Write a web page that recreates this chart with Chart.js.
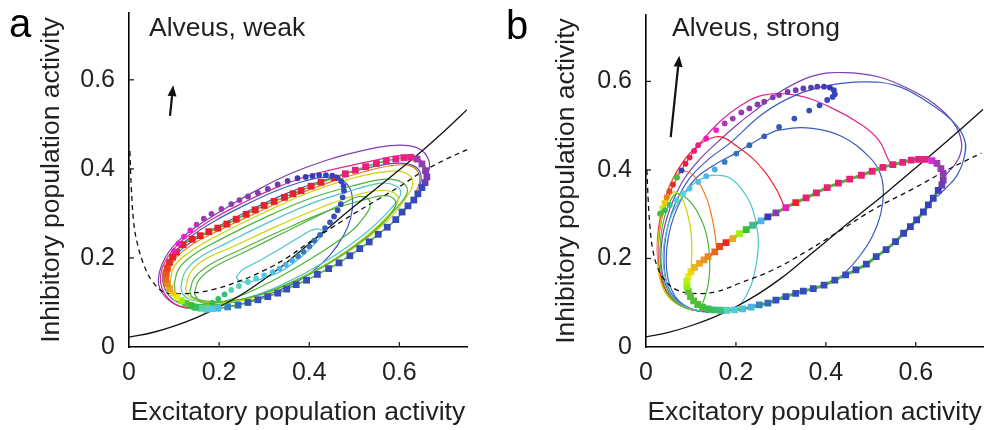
<!DOCTYPE html>
<html><head><meta charset="utf-8">
<script src="https://cdn.jsdelivr.net/npm/chart.js@4.4.1/dist/chart.umd.min.js"></script>
<style>
html,body{margin:0;padding:0;background:#fff;overflow:hidden}
#wrap{position:relative;width:988px;height:430px}
.panel{position:absolute;top:0;width:494px;height:430px}
</style></head><body>
<div id="wrap">
<div class="panel" style="left:0"><canvas id="ca" width="494" height="430"></canvas></div>
<div class="panel" style="left:494px"><canvas id="cb" width="494" height="430"></canvas></div>
</div>
<script>
// ---------- tick values ----------
const xTickValues = [0, 0.2, 0.4, 0.6];
const yTickValues = [0, 0.2, 0.4, 0.6];
const axisTitleX = 'Excitatory population activity';
const axisTitleY = 'Inhibitory population activity';
const panelLetters = ['a', 'b'];
const panelLabels = ['Alveus, weak', 'Alveus, strong'];

// ---------- panel a data ----------
const aSolid = [[0,0.022],[0.05,0.032],[0.1,0.047],[0.15,0.066],[0.2,0.09],[0.25,0.118],[0.3,0.152],[0.35,0.19],[0.4,0.232],[0.45,0.274],[0.5,0.316],[0.55,0.357],[0.6,0.398],[0.65,0.44],[0.7,0.485],[0.75,0.533]];
const aDashed = [[0.002,0.44],[0.005,0.36],[0.01,0.284],[0.017,0.239],[0.032,0.187],[0.05,0.15],[0.076,0.124],[0.1,0.12],[0.14,0.121],[0.19,0.13],[0.25,0.15],[0.3,0.172],[0.35,0.2],[0.4,0.235],[0.45,0.268],[0.5,0.3],[0.55,0.33],[0.6,0.36],[0.65,0.393],[0.7,0.42],[0.75,0.443]];
const aCycle = [[0.105,0.213],[0.120,0.230],[0.140,0.242],[0.158,0.250],[0.177,0.259],[0.197,0.267],[0.217,0.276],[0.238,0.287],[0.260,0.298],[0.280,0.308],[0.300,0.318],[0.322,0.327],[0.345,0.336],[0.364,0.344],[0.382,0.351],[0.404,0.361],[0.426,0.370],[0.455,0.380],[0.480,0.389],[0.502,0.397],[0.525,0.405],[0.549,0.412],[0.571,0.418],[0.592,0.422],[0.610,0.425],[0.625,0.426],[0.639,0.422],[0.650,0.411],[0.658,0.396],[0.661,0.382],[0.657,0.369],[0.650,0.358],[0.641,0.344],[0.632,0.330],[0.619,0.317],[0.606,0.303],[0.592,0.286],[0.573,0.269],[0.553,0.253],[0.533,0.236],[0.512,0.221],[0.490,0.205],[0.466,0.189],[0.443,0.176],[0.418,0.163],[0.394,0.150],[0.371,0.140],[0.350,0.130],[0.330,0.121],[0.308,0.113],[0.286,0.106],[0.264,0.100],[0.242,0.094],[0.219,0.090],[0.197,0.087],[0.185,0.086],[0.172,0.085],[0.160,0.087],[0.148,0.089],[0.137,0.093],[0.126,0.098],[0.116,0.104],[0.106,0.112],[0.097,0.121],[0.090,0.131],[0.085,0.142],[0.082,0.153],[0.082,0.165],[0.085,0.177],[0.090,0.190],[0.097,0.202]];
const aDots = [[0.100,0.215],[0.110,0.232],[0.122,0.248],[0.136,0.262],[0.150,0.275],[0.166,0.288],[0.183,0.299],[0.205,0.310],[0.227,0.321],[0.245,0.330],[0.264,0.338],[0.286,0.346],[0.308,0.355],[0.330,0.365],[0.352,0.373],[0.374,0.379],[0.392,0.382],[0.407,0.384],[0.422,0.386],[0.437,0.386],[0.451,0.385],[0.463,0.380],[0.471,0.372],[0.476,0.362],[0.477,0.351],[0.474,0.336],[0.470,0.321],[0.463,0.307],[0.455,0.293],[0.446,0.280],[0.435,0.267],[0.424,0.252],[0.411,0.239],[0.400,0.226],[0.387,0.214],[0.375,0.204],[0.362,0.194],[0.348,0.185],[0.334,0.176],[0.319,0.168],[0.300,0.161],[0.282,0.154],[0.264,0.146],[0.244,0.137],[0.227,0.128],[0.212,0.118],[0.198,0.108],[0.185,0.099]];
const aPurple = [[0.16,0.083],[0.11,0.092],[0.08,0.113],[0.066,0.14],[0.068,0.17],[0.08,0.2],[0.1,0.228],[0.13,0.256],[0.17,0.284],[0.22,0.315],[0.28,0.35],[0.36,0.39],[0.44,0.42],[0.518,0.441],[0.58,0.452],[0.621,0.452],[0.648,0.443],[0.663,0.425],[0.667,0.405],[0.662,0.385]];
const aPink = [[0.15,0.085],[0.105,0.095],[0.08,0.118],[0.07,0.145],[0.073,0.175],[0.088,0.205],[0.11,0.232],[0.145,0.26],[0.19,0.29],[0.25,0.322],[0.32,0.355],[0.4,0.385],[0.48,0.405],[0.55,0.42],[0.6,0.43],[0.635,0.428],[0.655,0.41],[0.66,0.39]];
const aBlue = [[0.14,0.09],[0.1,0.105],[0.08,0.13],[0.075,0.16],[0.085,0.19],[0.105,0.218],[0.14,0.25],[0.19,0.283],[0.25,0.315],[0.32,0.348],[0.38,0.37],[0.43,0.381],[0.465,0.378],[0.488,0.36],[0.496,0.33],[0.492,0.29],[0.476,0.25],[0.445,0.205],[0.405,0.168],[0.36,0.14],[0.31,0.118],[0.26,0.1],[0.21,0.088]];
const aBlue2 = [[0.08,0.14],[0.09,0.185],[0.12,0.222],[0.17,0.255],[0.25,0.298],[0.35,0.345],[0.45,0.38],[0.53,0.402],[0.6,0.413],[0.635,0.405],[0.648,0.385],[0.645,0.36]];
const aOrange = [[0.085,0.15],[0.1,0.195],[0.14,0.23],[0.2,0.262],[0.28,0.3],[0.36,0.337],[0.44,0.368],[0.52,0.393],[0.58,0.407],[0.62,0.408],[0.64,0.395],[0.645,0.372],[0.635,0.345]];
const aYellow1 = [[0.09,0.14],[0.1,0.18],[0.13,0.21],[0.2,0.252],[0.3,0.302],[0.4,0.347],[0.5,0.38],[0.58,0.395],[0.615,0.39],[0.63,0.37],[0.618,0.34],[0.57,0.28],[0.48,0.21],[0.38,0.155],[0.28,0.115],[0.2,0.095],[0.14,0.097],[0.105,0.113],[0.09,0.14]];
const aGreen1 = [[0.10,0.14],[0.11,0.175],[0.14,0.205],[0.2,0.24],[0.3,0.29],[0.4,0.333],[0.5,0.363],[0.57,0.377],[0.605,0.37],[0.618,0.35],[0.6,0.32],[0.55,0.268],[0.46,0.2],[0.36,0.145],[0.27,0.11],[0.19,0.095],[0.13,0.1],[0.106,0.118],[0.10,0.14]];
const aCyan1 = [[0.115,0.135],[0.125,0.17],[0.155,0.2],[0.22,0.235],[0.32,0.285],[0.42,0.328],[0.5,0.353],[0.56,0.368],[0.592,0.362],[0.603,0.345],[0.585,0.315],[0.53,0.26],[0.44,0.195],[0.34,0.14],[0.26,0.11],[0.19,0.1],[0.14,0.105],[0.12,0.118],[0.115,0.135]];
const aYellow2 = [[0.125,0.13],[0.135,0.165],[0.165,0.195],[0.23,0.225],[0.33,0.272],[0.43,0.315],[0.51,0.343],[0.565,0.352],[0.592,0.343],[0.597,0.328],[0.575,0.295],[0.51,0.235],[0.42,0.175],[0.32,0.126],[0.24,0.103],[0.17,0.1],[0.135,0.112],[0.125,0.13]];
const aGreen2 = [[0.135,0.125],[0.145,0.155],[0.18,0.185],[0.24,0.215],[0.34,0.262],[0.44,0.305],[0.52,0.33],[0.568,0.34],[0.59,0.33],[0.588,0.31],[0.56,0.275],[0.5,0.225],[0.41,0.168],[0.31,0.124],[0.23,0.104],[0.17,0.103],[0.14,0.113],[0.135,0.125]];
const aGreen3 = [[0.145,0.12],[0.155,0.15],[0.19,0.18],[0.26,0.215],[0.34,0.255],[0.42,0.295],[0.48,0.325],[0.51,0.338],[0.53,0.333],[0.535,0.315],[0.52,0.29],[0.496,0.262],[0.422,0.21],[0.334,0.157],[0.26,0.12],[0.2,0.1],[0.16,0.1],[0.145,0.12]];
const aCyan2 = [[0.238,0.157],[0.25,0.172],[0.267,0.182],[0.3,0.2],[0.341,0.224],[0.375,0.245],[0.4,0.26],[0.42,0.265],[0.43,0.258],[0.415,0.235],[0.385,0.205],[0.341,0.172],[0.3,0.155],[0.267,0.146],[0.245,0.148],[0.238,0.157]];
const aArrow = [[0.091,0.519],[0.098,0.588]];

// ---------- panel b data ----------
const bSolid = [[0,0.023],[0.05,0.033],[0.1,0.048],[0.15,0.067],[0.2,0.091],[0.25,0.12],[0.3,0.155],[0.35,0.196],[0.4,0.238],[0.45,0.28],[0.5,0.32],[0.55,0.362],[0.6,0.405],[0.65,0.448],[0.7,0.492],[0.75,0.537]];
const bDashed = [[0.002,0.40],[0.005,0.33],[0.009,0.27],[0.015,0.22],[0.025,0.182],[0.04,0.153],[0.068,0.129],[0.105,0.121],[0.156,0.125],[0.208,0.144],[0.282,0.174],[0.355,0.215],[0.43,0.262],[0.51,0.313],[0.595,0.358],[0.67,0.40],[0.746,0.438]];
const bCycle = [[0.094,0.159],[0.100,0.170],[0.108,0.180],[0.119,0.189],[0.129,0.197],[0.138,0.204],[0.153,0.215],[0.164,0.227],[0.178,0.236],[0.193,0.245],[0.208,0.256],[0.223,0.265],[0.237,0.275],[0.256,0.285],[0.271,0.294],[0.289,0.303],[0.311,0.315],[0.333,0.326],[0.356,0.337],[0.379,0.348],[0.403,0.360],[0.428,0.370],[0.453,0.379],[0.479,0.388],[0.503,0.397],[0.527,0.406],[0.549,0.412],[0.571,0.417],[0.590,0.422],[0.606,0.424],[0.621,0.424],[0.636,0.421],[0.647,0.415],[0.656,0.403],[0.661,0.392],[0.661,0.377],[0.658,0.366],[0.650,0.354],[0.639,0.336],[0.628,0.321],[0.617,0.305],[0.602,0.287],[0.588,0.272],[0.573,0.257],[0.555,0.238],[0.534,0.220],[0.512,0.204],[0.490,0.187],[0.467,0.174],[0.444,0.163],[0.420,0.151],[0.396,0.140],[0.372,0.132],[0.350,0.126],[0.333,0.121],[0.311,0.114],[0.289,0.106],[0.271,0.099],[0.252,0.095],[0.234,0.090],[0.215,0.086],[0.197,0.084],[0.180,0.083],[0.165,0.083],[0.150,0.084],[0.138,0.086],[0.126,0.090],[0.115,0.096],[0.106,0.104],[0.099,0.114],[0.094,0.125],[0.091,0.137],[0.091,0.148]];
const bDots = [[0.031,0.301],[0.036,0.315],[0.041,0.327],[0.046,0.339],[0.052,0.352],[0.060,0.367],[0.069,0.383],[0.079,0.399],[0.088,0.414],[0.097,0.428],[0.107,0.443],[0.116,0.456],[0.134,0.471],[0.156,0.490],[0.175,0.505],[0.193,0.516],[0.212,0.530],[0.230,0.539],[0.248,0.548],[0.263,0.554],[0.282,0.564],[0.296,0.569],[0.315,0.576],[0.333,0.580],[0.350,0.584],[0.367,0.586],[0.381,0.588],[0.396,0.588],[0.409,0.586],[0.418,0.580],[0.420,0.571],[0.415,0.565],[0.403,0.558],[0.386,0.546],[0.363,0.534],[0.330,0.516],[0.296,0.497],[0.263,0.476],[0.230,0.456],[0.201,0.437],[0.175,0.418],[0.153,0.401],[0.134,0.386],[0.116,0.373],[0.097,0.358],[0.083,0.347],[0.068,0.332],[0.053,0.321],[0.042,0.309],[0.033,0.302]];
const bPurple = [[0.13,0.079],[0.085,0.09],[0.055,0.118],[0.038,0.16],[0.033,0.2],[0.036,0.245],[0.046,0.29],[0.062,0.335],[0.085,0.38],[0.116,0.42],[0.156,0.46],[0.2,0.5],[0.25,0.54],[0.296,0.575],[0.37,0.612],[0.44,0.62],[0.518,0.61],[0.58,0.585],[0.64,0.55],[0.685,0.505],[0.702,0.46],[0.695,0.425],[0.675,0.398],[0.658,0.382]];
const bBlueOuter = [[0.14,0.078],[0.095,0.088],[0.062,0.113],[0.045,0.15],[0.04,0.2],[0.044,0.25],[0.056,0.3],[0.075,0.345],[0.1,0.385],[0.14,0.425],[0.186,0.46],[0.26,0.527],[0.333,0.569],[0.407,0.591],[0.481,0.599],[0.555,0.591],[0.621,0.557],[0.68,0.512],[0.709,0.467],[0.706,0.422],[0.69,0.385],[0.668,0.36],[0.648,0.34]];
const bBlueInner = [[0.15,0.078],[0.1,0.087],[0.068,0.11],[0.05,0.15],[0.045,0.2],[0.05,0.25],[0.062,0.295],[0.082,0.34],[0.11,0.38],[0.15,0.41],[0.2,0.438],[0.263,0.476],[0.296,0.49],[0.37,0.494],[0.437,0.475],[0.496,0.43],[0.521,0.392],[0.528,0.35],[0.522,0.3],[0.503,0.249],[0.475,0.205],[0.44,0.165],[0.414,0.144]];
const bPink = [[0.12,0.08],[0.08,0.092],[0.05,0.12],[0.033,0.16],[0.027,0.21],[0.03,0.26],[0.04,0.31],[0.058,0.36],[0.085,0.41],[0.12,0.46],[0.16,0.505],[0.21,0.545],[0.26,0.569],[0.333,0.569],[0.407,0.543],[0.481,0.501],[0.518,0.467],[0.536,0.43],[0.547,0.407]];
const bRed = [[0.11,0.082],[0.07,0.097],[0.045,0.125],[0.03,0.17],[0.025,0.22],[0.028,0.27],[0.038,0.32],[0.055,0.37],[0.08,0.415],[0.11,0.45],[0.145,0.472],[0.17,0.474],[0.2,0.455],[0.237,0.426],[0.265,0.395],[0.289,0.358],[0.3,0.335],[0.308,0.317]];
const bOrange = [[0.105,0.083],[0.065,0.1],[0.04,0.13],[0.028,0.175],[0.026,0.22],[0.03,0.27],[0.04,0.32],[0.055,0.37],[0.07,0.392],[0.09,0.397],[0.108,0.385],[0.123,0.362],[0.137,0.33],[0.145,0.3],[0.152,0.265],[0.156,0.235],[0.157,0.222]];
const bYellow = [[0.1,0.084],[0.06,0.103],[0.037,0.135],[0.027,0.18],[0.026,0.23],[0.032,0.28],[0.045,0.32],[0.062,0.35],[0.08,0.335],[0.094,0.294],[0.1,0.26],[0.102,0.225],[0.101,0.19],[0.101,0.174]];
const bGreen = [[0.115,0.081],[0.075,0.095],[0.047,0.125],[0.034,0.17],[0.031,0.22],[0.036,0.27],[0.048,0.315],[0.065,0.345],[0.085,0.34],[0.105,0.32],[0.12,0.294],[0.133,0.26],[0.14,0.22],[0.142,0.18],[0.138,0.14],[0.13,0.11],[0.123,0.091]];
const bCyan = [[0.125,0.08],[0.085,0.092],[0.056,0.118],[0.042,0.16],[0.038,0.21],[0.045,0.26],[0.06,0.305],[0.085,0.345],[0.11,0.372],[0.138,0.386],[0.16,0.388],[0.185,0.383],[0.21,0.36],[0.232,0.325],[0.245,0.28],[0.25,0.235],[0.245,0.185],[0.232,0.135],[0.21,0.095],[0.195,0.083]];
const bArrow = [[0.055,0.474],[0.074,0.658]];

// ---------- styling ----------
const FONT = "'Liberation Sans', Arial, Helvetica, sans-serif";
const INK = '#231f20';
const COL = {purple:'#7d3fb0', pink:'#e0268c', blue:'#3a5cc0', orange:'#f0781e', yellow:'#c9d400', green:'#4db33a', cyan:'#4cc4c8', red:'#e8262a', lime:'#8cc63f'};

function hsl(h){
  h = ((h % 360) + 360) % 360;
  let s = 82, l = 52;
  if (h >= 205 && h < 250) { s = 55; l = 47; }
  else if (h >= 250 && h < 300) { s = 48; l = 46; }
  else if (h >= 185 && h < 205) { s = 75; l = 60; }
  else if (h >= 160 && h < 185) { s = 55; l = 58; }
  else if (h >= 90 && h < 160) { s = 55; l = 48; }
  else if (h >= 50 && h < 90) { s = 88; l = 50; }
  return 'hsl(' + h.toFixed(1) + ',' + s + '%,' + l + '%)';
}
function hueFromStops(stops, i){
  if (i <= stops[0][0]) return stops[0][1];
  for (let k = 1; k < stops.length; k++){
    if (i <= stops[k][0]){
      const [i0,h0] = stops[k-1], [i1,h1] = stops[k];
      return h0 + (h1 - h0) * (i - i0) / (i1 - i0);
    }
  }
  return stops[stops.length-1][1];
}
const stopColor = stops => ctx => hsl(hueFromStops(stops, ctx.dataIndex));

const aCycleHue = [[0,358],[17,356],[18,335],[25,330],[26,292],[30,265],[31,232],[51,228],[53,205],[55,190],[57,160],[59,120],[61,85],[62,62],[64,40],[66,22],[69,4],[70,0]];
const aDotHue = [[0,315],[5,292],[12,272],[16,238],[28,228],[33,210],[38,198],[41,188],[44,165],[47,125]];
const bCycleHue = [[0,62],[2,45],[5,30],[8,2],[17,356],[18,336],[30,332],[31,300],[34,282],[36,266],[37,235],[56,228],[58,205],[61,190],[63,150],[66,115],[70,100],[72,75]];
const bDotHue = [[0,100],[1,70],[2,50],[3,30],[4,12],[5,2],[8,350],[11,330],[13,305],[16,285],[22,272],[26,250],[29,236],[34,230],[37,222],[39,212],[41,202],[44,192],[46,178],[48,140],[49,110]];

const toXY = arr => arr.map(p => ({x:p[0], y:p[1]}));
function lineDS(data, color, width, order, dash){
  return {data: toXY(data), showLine: true, borderColor: color, borderWidth: width, pointRadius: 0,
          pointHoverRadius: 0, tension: 0.4, fill: false, order: order, borderDash: dash || []};
}
function markDS(data, stops, style, radius, order, lineColor, lineWidth){
  return {data: toXY(data), showLine: !!lineColor, borderColor: lineColor || 'transparent', borderWidth: lineWidth || 0,
          tension: 0.4, pointStyle: style, pointRadius: radius, pointBorderWidth: 0,
          pointBackgroundColor: stopColor(stops), pointBorderColor: stopColor(stops), order: order};
}

const decor = {
  id: 'decor',
  afterDraw(chart){
    const o = chart.options.plugins.decor;
    const {ctx, chartArea: ca, scales: {x, y}} = chart;
    ctx.save();
    ctx.strokeStyle = INK; ctx.lineWidth = 1.3;
    xTickValues.forEach(v => { if (v === 0) return; const px = x.getPixelForValue(v);
      ctx.beginPath(); ctx.moveTo(px, ca.bottom); ctx.lineTo(px, ca.bottom - 5); ctx.stroke(); });
    yTickValues.forEach(v => { if (v === 0) return; const py = y.getPixelForValue(v);
      ctx.beginPath(); ctx.moveTo(ca.left, py); ctx.lineTo(ca.left + 5, py); ctx.stroke(); });
    // arrow
    const a = o.arrow;
    const x0 = x.getPixelForValue(a[0][0]), y0 = y.getPixelForValue(a[0][1]);
    const x1 = x.getPixelForValue(a[1][0]), y1 = y.getPixelForValue(a[1][1]);
    const ang = Math.atan2(y1 - y0, x1 - x0), hl = 11, hw = 4.5;
    const bx = x1 - hl * Math.cos(ang), by = y1 - hl * Math.sin(ang);
    ctx.strokeStyle = '#111'; ctx.fillStyle = '#111'; ctx.lineWidth = 2.2;
    ctx.beginPath(); ctx.moveTo(x0, y0); ctx.lineTo(bx, by); ctx.stroke();
    ctx.beginPath(); ctx.moveTo(x1, y1);
    ctx.lineTo(bx + hw * Math.sin(ang), by - hw * Math.cos(ang));
    ctx.lineTo(bx - hw * Math.sin(ang), by + hw * Math.cos(ang));
    ctx.closePath(); ctx.fill();
    // texts
    ctx.fillStyle = '#000'; ctx.textBaseline = 'alphabetic'; ctx.textAlign = 'left';
    ctx.font = '40px ' + FONT; ctx.fillText(o.letter, o.letterPos[0], o.letterPos[1]);
    ctx.fillStyle = INK;
    ctx.font = '26.5px ' + FONT; ctx.fillText(o.label, o.labelPos[0], o.labelPos[1]);
    ctx.restore();
  }
};

function makeChart(id, datasets, L){
  return new Chart(document.getElementById(id), {
    type: 'scatter',
    data: {datasets},
    plugins: [decor],
    options: {
      responsive: false, animation: false, devicePixelRatio: 1,
      layout: {padding: {left: 0, top: L.top, right: L.right, bottom: 0}},
      plugins: {legend: {display: false}, tooltip: {enabled: false},
                decor: {arrow: L.arrow, letter: L.letter, letterPos: L.letterPos, label: L.label, labelPos: L.labelPos}},
      elements: {line: {capBezierPoints: true}},
      scales: {
        x: {type: 'linear', min: 0, max: 0.75, position: 'bottom',
            afterBuildTicks: s => { s.ticks = xTickValues.map(v => ({value: v})); },
            afterFit: s => { s.height = 83; s.paddingLeft = 0; s.paddingRight = 0; },
            grid: {display: false, drawTicks: false},
            border: {display: true, color: '#000', width: 1.6},
            ticks: {padding: 11, color: INK, font: {family: FONT, size: 25}, maxRotation: 0,
                    callback: v => v === 0 ? '0' : String(v)},
            title: {display: true, text: axisTitleX, color: INK, font: {family: FONT, size: 26.5},
                    padding: {top: 0, bottom: 1}}},
        y: {type: 'linear', min: 0, max: 0.75, position: 'left',
            afterBuildTicks: s => { s.ticks = yTickValues.map(v => ({value: v})); },
            afterFit: s => { s.width = L.yWidth; s.paddingTop = 0; s.paddingBottom = 0; },
            grid: {display: false, drawTicks: false},
            border: {display: true, color: '#000', width: 1.6},
            ticks: {padding: 14, color: INK, font: {family: FONT, size: 25},
                    callback: v => v === 0 ? '0' : String(v)},
            title: {display: true, text: axisTitleY, color: INK, font: {family: FONT, size: 26.5},
                    padding: {top: L.yTitlePad, bottom: 0}}}
      }
    }
  });
}

makeChart('ca', [
  markDS(aDots, aDotHue, 'circle', 2.9, 0),
  markDS(aCycle, aCycleHue, 'rect', 4.8, 1, COL.green, 1.6),
  lineDS(aDashed, '#111', 1.3, 2, [5, 4]),
  lineDS(aSolid, '#111', 1.3, 2),
  lineDS(aCyan2, COL.cyan, 1.2, 5),
  lineDS(aGreen3, COL.green, 1.2, 5),
  lineDS(aGreen2, COL.green, 1.2, 5),
  lineDS(aYellow2, COL.yellow, 1.2, 5),
  lineDS(aCyan1, COL.cyan, 1.2, 5),
  lineDS(aGreen1, COL.green, 1.2, 5),
  lineDS(aYellow1, COL.yellow, 1.2, 5),
  lineDS(aOrange, COL.orange, 1.2, 5),
  lineDS(aBlue2, COL.blue, 1.2, 5),
  lineDS(aBlue, COL.blue, 1.2, 5),
  lineDS(aPink, COL.pink, 1.2, 5),
  lineDS(aPurple, COL.purple, 1.2, 5)
], {top: 13, right: 27, yWidth: 129, yTitlePad: 36, arrow: aArrow,
    letter: panelLetters[0], letterPos: [9, 37], label: panelLabels[0], labelPos: [149, 36]});

makeChart('cb', [
  markDS(bDots, bDotHue, 'circle', 2.9, 0),
  markDS(bCycle, bCycleHue, 'rect', 4.8, 1, COL.green, 3),
  lineDS(bDashed, '#111', 1.3, 2, [5, 4]),
  lineDS(bSolid, '#111', 1.3, 2),
  lineDS(bCyan, COL.cyan, 1.2, 5),
  lineDS(bGreen, COL.green, 1.2, 5),
  lineDS(bYellow, COL.yellow, 1.2, 5),
  lineDS(bOrange, COL.orange, 1.2, 5),
  lineDS(bRed, COL.red, 1.2, 5),
  lineDS(bBlueInner, COL.blue, 1.2, 5),
  lineDS(bBlueOuter, COL.blue, 1.2, 5),
  lineDS(bPink, COL.pink, 1.2, 5),
  lineDS(bPurple, COL.purple, 1.2, 5)
], {top: 15, right: 4, yWidth: 152, yTitlePad: 57, arrow: bArrow,
    letter: panelLetters[1], letterPos: [12, 39], label: panelLabels[1], labelPos: [178, 36]});
</script>
</body></html>
